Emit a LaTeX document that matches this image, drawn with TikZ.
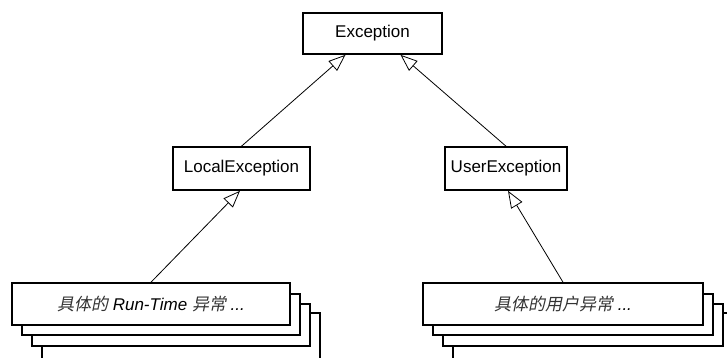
\documentclass[tikz,border=0pt]{standalone}
\usepackage{fontspec}
\setmainfont{Liberation Sans}
\newfontfamily\cjkit[FakeSlant=0.2]{Noto Sans CJK SC}
\usetikzlibrary{arrows.meta}
\begin{document}
\begin{tikzpicture}[x=1pt,y=-1pt,
  cls/.style={draw,line width=1.6pt,fill=white,inner sep=0pt,font=\fontsize{17}{19}\selectfont},
  layer/.style={draw,line width=1.6pt,fill=white},
  inh/.style={line width=0.8pt,-{Triangle[open,length=17pt,width=13pt,fill=white]}}]
\useasboundingbox (0,0) rectangle (727,357);
\clip (0,0) rectangle (727,357);
\node[cls,minimum width=139pt,minimum height=41pt] (exc) at (372.5,33.5) {Exception};
\node[cls,minimum width=137pt,minimum height=43pt] (local) at (241.5,168.5) {LocalException};
\node[cls,minimum width=122pt,minimum height=43pt] (user) at (506,168.5) {UserException};
% left stack
\draw[layer] (42,313) rectangle (320,380);
\draw[layer] (32,304) rectangle (310,346);
\draw[layer] (22,294) rectangle (300,335);
\node[cls,minimum width=278pt,minimum height=42pt,font=\fontsize{17}{19}\selectfont\itshape] (lrt) at (151,304) {{\cjkit\color{black!80}具体的} Run-Time {\cjkit\color{black!80}异常} ...};
% right stack
\draw[layer] (453,313) rectangle (733,380);
\draw[layer] (443,304) rectangle (723,346);
\draw[layer] (433,294) rectangle (713,335);
\node[cls,minimum width=280pt,minimum height=42pt,font=\fontsize{17}{19}\selectfont\itshape] (urt) at (563,304) {{\cjkit\color{black!80}具体的用户异常} ...};
% connectors
\draw[inh] (local.north) -- ([xshift=-27pt]exc.south);
\draw[inh] (user.north) -- ([xshift=28pt]exc.south);
\draw[inh] (lrt.north) -- ([xshift=-1.5pt]local.south);
\draw[inh] (urt.north) -- ([xshift=2pt]user.south);
\end{tikzpicture}
\end{document}
